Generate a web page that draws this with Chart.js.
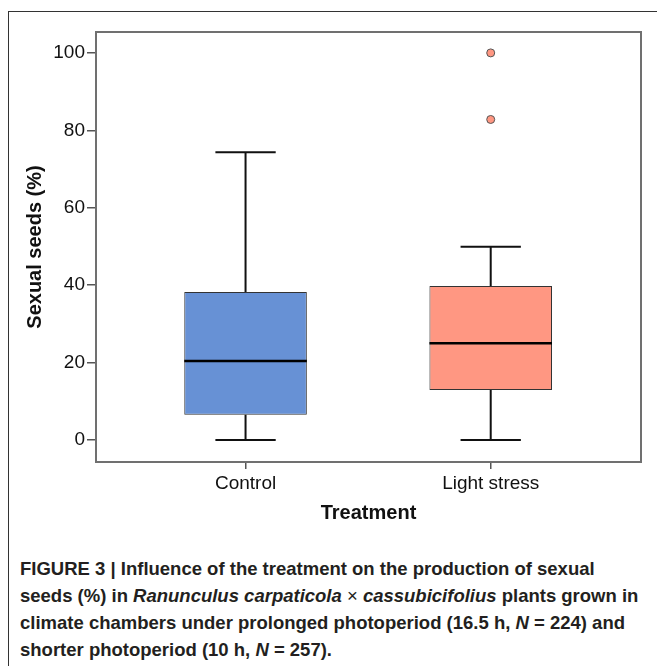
<!DOCTYPE html>
<html lang="en">
<head>
<meta charset="UTF-8">
<title>Sexual seeds by treatment</title>
<script src="https://cdn.jsdelivr.net/npm/chart.js"></script>
<style>
  body { margin: 0; background: #fff; width: 657px; height: 666px; overflow: hidden; position: relative; font-family: "Liberation Sans", Arial, sans-serif; }
  .frame { position: absolute; left: 8px; top: 11px; width: 700px; height: 700px; border-left: 1px solid #333; border-top: 1px solid #333; }
  #wrap { position: absolute; left: 0; top: 0; width: 657px; height: 540px; }
  .caption { position: absolute; left: 20px; top: 555px; font-size: 18.5px; font-weight: bold; line-height: 27px; color: #231f20; white-space: nowrap; }
  .caption i { font-style: italic; }
  .caption .times { font-weight: normal; }
</style>
</head>
<body>
<div class="frame"></div>
<div id="wrap"><canvas id="box" width="657" height="540"></canvas></div>
<div class="caption">
  FIGURE 3 | Influence of the treatment on the production of sexual<br>
  seeds (%) in <i>Ranunculus carpaticola</i> <span class="times">×</span> <i>cassubicifolius</i> plants grown in<br>
  climate chambers under prolonged photoperiod (16.5 h, <i>N</i> = 224) and<br>
  shorter photoperiod (10 h, <i>N</i> = 257).
</div>

<script>
// values (Sexual seeds, %)
const categories = ["Control", "Light stress"];
const whiskerLow = [0, 0];
const q1 = [6.5, 12.9];
const median = [20.4, 25.0];
const q3 = [38.2, 39.8];
const whiskerHigh = [74.3, 49.9];
const outlierGroup = ["Light stress", "Light stress"];
const outlierValues = [100, 82.8];
const yTicks = [0, 20, 40, 60, 80, 100];

const boxColors = ["#6791d5", "#ff9782"];
const FONT = "'Liberation Sans', Arial, sans-serif";
const CAP = 0.123;

// whiskers + caps go under the boxes, medians and the plot frame on top
const boxLines = {
    id: 'boxLines',
    beforeDatasetsDraw(chart) {
        const { ctx, scales: { x, y } } = chart;
        ctx.save();
        ctx.strokeStyle = '#111';
        ctx.lineWidth = 2;
        categories.forEach((c, i) => {
            const cx = x.getPixelForValue(i + 1);
            const l = x.getPixelForValue(i + 1 - CAP);
            const r = x.getPixelForValue(i + 1 + CAP);
            const yHi = y.getPixelForValue(whiskerHigh[i]);
            const yLo = y.getPixelForValue(whiskerLow[i]);
            ctx.beginPath();
            ctx.moveTo(cx, y.getPixelForValue(q3[i])); ctx.lineTo(cx, yHi);
            ctx.moveTo(cx, y.getPixelForValue(q1[i])); ctx.lineTo(cx, yLo);
            ctx.moveTo(l, yHi); ctx.lineTo(r, yHi);
            ctx.moveTo(l, yLo); ctx.lineTo(r, yLo);
            ctx.stroke();
        });
        ctx.restore();
    },
    afterDatasetsDraw(chart) {
        const { ctx, scales: { x, y }, chartArea: a } = chart;
        ctx.save();
        ctx.strokeStyle = '#000';
        ctx.lineWidth = 2.5;
        categories.forEach((c, i) => {
            const l = x.getPixelForValue(i + 0.75);
            const r = x.getPixelForValue(i + 1.25);
            const ym = y.getPixelForValue(median[i]);
            ctx.beginPath();
            ctx.moveTo(l, ym); ctx.lineTo(r, ym);
            ctx.stroke();
        });
        ctx.strokeStyle = '#707070';
        ctx.lineWidth = 2;
        ctx.strokeRect(a.left, a.top, a.right - a.left, a.bottom - a.top);
        ctx.restore();
    }
};

new Chart(document.getElementById('box'), {
    type: 'bar',
    data: {
        datasets: [{
            type: 'scatter',
            data: outlierValues.map((v, i) => ({ x: categories.indexOf(outlierGroup[i]) + 1, y: v })),
            backgroundColor: boxColors[1],
            borderColor: '#555',
            borderWidth: 1,
            pointRadius: 4,
            order: 0
        }, {
            type: 'bar',
            data: categories.map((c, i) => ({ x: i + 1, y: [q1[i], q3[i]] })),
            backgroundColor: boxColors,
            borderColor: '#333',
            borderWidth: 1,
            borderSkipped: false,
            categoryPercentage: 1,
            barPercentage: 0.5,
            order: 1
        }]
    },
    options: {
        responsive: false,
        animation: false,
        layout: { padding: { left: 0, top: 32, right: 16, bottom: 0 } },
        plugins: { legend: { display: false }, tooltip: { enabled: false } },
        scales: {
            x: {
                type: 'linear',
                min: 0.39,
                max: 2.613,
                offset: false,
                afterBuildTicks: (scale) => { scale.ticks = categories.map((c, i) => ({ value: i + 1 })); },
                afterFit: (scale) => { scale.height = 78; },
                grid: { offset: false, drawOnChartArea: false, drawTicks: true, tickLength: 7, color: '#555', lineWidth: 1.5 },
                border: { display: false },
                ticks: {
                    autoSkip: false,
                    padding: 3,
                    color: '#111',
                    font: { family: FONT, size: 19 },
                    callback: (v) => categories[v - 1] || ''
                },
                title: {
                    display: true,
                    text: 'Treatment',
                    color: '#111',
                    font: { family: FONT, size: 20, weight: 'bold' },
                    padding: { top: 0, bottom: 14.5 }
                }
            },
            y: {
                min: -5.7,
                max: 105.4,
                afterBuildTicks: (scale) => { scale.ticks = yTicks.map(v => ({ value: v })); },
                afterFit: (scale) => { scale.width = 96; },
                grid: { drawOnChartArea: false, drawTicks: true, tickLength: 9, color: '#555', lineWidth: 1.5 },
                border: { display: false },
                ticks: {
                    padding: 2,
                    color: '#111',
                    font: { family: FONT, size: 19 }
                },
                title: {
                    display: true,
                    text: 'Sexual seeds (%)',
                    color: '#111',
                    font: { family: FONT, size: 20, weight: 'bold' },
                    padding: { top: 23, bottom: 0 }
                }
            }
        }
    },
    plugins: [boxLines]
});
</script>
</body>
</html>
